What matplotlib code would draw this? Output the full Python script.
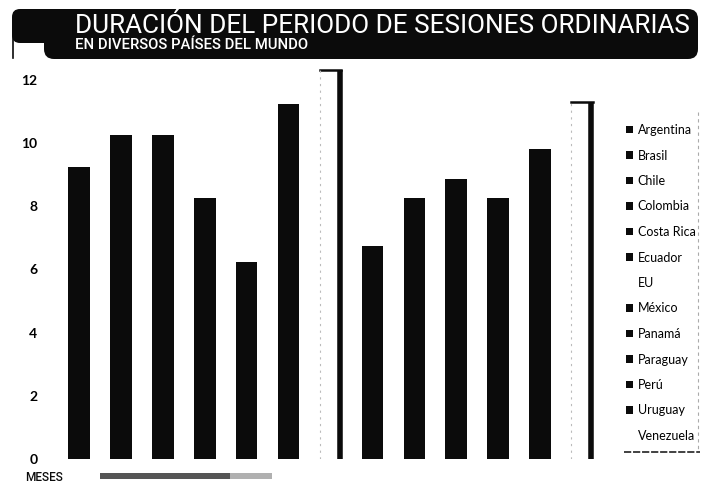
import matplotlib
matplotlib.use("Agg")
import matplotlib.pyplot as plt
from matplotlib.patches import FancyBboxPatch, Rectangle

# --- DATOS ---
paises = ["Argentina", "Brasil", "Chile", "Colombia", "Costa Rica", "Ecuador", "EU",
          "México", "Panamá", "Paraguay", "Perú", "Uruguay", "Venezuela"]
meses = [9.25, 10.25, 10.25, 8.25, 6.25, 11.25, 12.3, 6.75, 8.25, 8.85, 8.25, 9.8, 11.3]
# barras claras (sin relleno)
claros = ["EU", "Venezuela"]
ticks_y = [0, 2, 4, 6, 8, 10, 12]

TITULO = "DURACIÓN DEL PERIODO DE SESIONES ORDINARIAS"
SUBTITULO = "EN DIVERSOS PAÍSES DEL MUNDO"

ANCHO, ALTO = 705, 484
NEGRO = "#0b0b0b"
FUENTE_COND = ["Roboto", "DejaVu Sans"]
FUENTE = ["Lato", "DejaVu Sans"]

fig = plt.figure(figsize=(ANCHO / 100, ALTO / 100), dpi=100)
fig.patch.set_facecolor("white")

# eje principal de barras
ax = fig.add_axes([54 / ANCHO, 25 / ALTO, 553 / ANCHO, 398 / ALTO])
colores = ["white" if p in claros else NEGRO for p in paises]
barras = ax.bar(range(len(paises)), meses, width=0.51, color=colores, zorder=2)

# borde derecho y superior de las barras claras (efecto 3D)
for b, p in zip(barras, paises):
    if p in claros:
        x0, x1, h = b.get_x(), b.get_x() + b.get_width(), b.get_height()
        ax.plot([x1 - 0.04, x1 - 0.04], [0, h], color=NEGRO, lw=4, solid_capstyle="butt", zorder=3)
        ax.plot([x0, x1], [h, h], color=NEGRO, lw=1.8, zorder=3)
        ax.plot([x0, x0], [0, h], color="#bbbbbb", lw=0.8, ls=(0, (2, 4)), zorder=3)

ax.set_xlim(-0.6, len(paises) - 0.4)
ax.set_ylim(0, 12.6)
ax.set_yticks(ticks_y)
ax.set_yticklabels([str(t) for t in ticks_y], fontfamily=FUENTE, fontweight="bold", fontsize=10)
ax.tick_params(axis="y", length=0, pad=12)
ax.set_xticks([])
for s in ax.spines.values():
    s.set_visible(False)

# leyenda a la derecha
handles = [Rectangle((0, 0), 1, 1, facecolor=c) for c in colores]
fig.legend(handles, paises, loc="upper left", bbox_to_anchor=(621 / ANCHO, 1 - 119 / ALTO),
           frameon=False, handlelength=0.55, handleheight=0.55, handletextpad=0.4,
           labelspacing=1.08, borderaxespad=0, prop={"family": FUENTE, "size": 9})

# capa de decoración en píxeles
deco = fig.add_axes([0, 0, 1, 1], zorder=5)
deco.set_xlim(0, ANCHO)
deco.set_ylim(ALTO, 0)
deco.axis("off")

# banda del título
deco.add_patch(FancyBboxPatch((44, 9), 654, 50, boxstyle="round,pad=0,rounding_size=10",
                              facecolor=NEGRO, edgecolor="none"))
deco.add_patch(FancyBboxPatch((12, 9), 60, 34, boxstyle="round,pad=0,rounding_size=8",
                              facecolor=NEGRO, edgecolor="none"))
deco.plot([12.5, 12.5], [30, 58], color=NEGRO, lw=1.2)

renderer = fig.canvas.get_renderer()


def ajustar_ancho(txt, ancho_px):
    # escala el tamaño de letra para que el texto ocupe el ancho indicado
    w = txt.get_window_extent(renderer).width
    txt.set_fontsize(txt.get_fontsize() * ancho_px / w)


t1 = deco.text(75, 33, TITULO, color="white", fontfamily=FUENTE_COND, fontsize=20,
               va="baseline", ha="left")
ajustar_ancho(t1, 615)
t2 = deco.text(75, 49, SUBTITULO, color="white", fontfamily=FUENTE_COND, fontweight="medium",
               fontsize=11, va="baseline", ha="left")
ajustar_ancho(t2, 232)

# marco parcial de la leyenda
deco.plot([698, 698], [112, 450], color="#aaaaaa", lw=0.8, ls=(0, (3, 3)))
deco.plot([624, 700], [452, 452], color="#333333", lw=1.3, ls=(0, (4, 1)))

# pie: unidad y línea de fuente
deco.text(25, 481, "MESES", fontfamily=FUENTE_COND, fontweight="medium", fontsize=8.5,
          color=NEGRO, va="baseline", ha="left")
deco.add_patch(Rectangle((100, 473), 130, 6, facecolor="#555555", edgecolor="none"))
deco.add_patch(Rectangle((230, 473), 42, 6, facecolor="#b0b0b0", edgecolor="none"))

fig.savefig("out.png", dpi=100)
